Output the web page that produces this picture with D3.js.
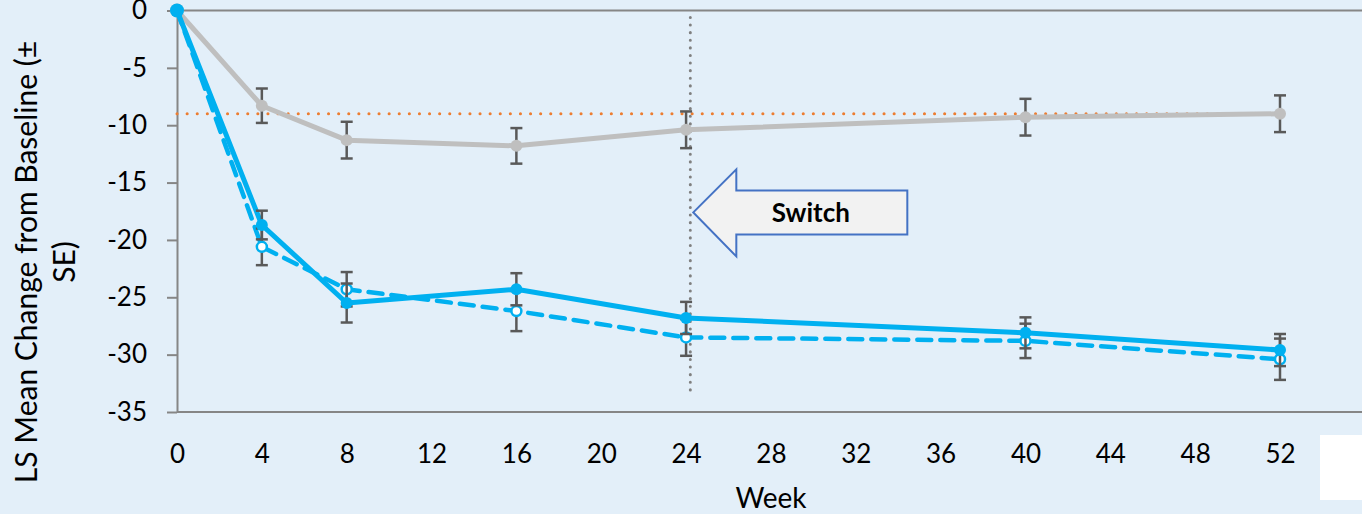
<!DOCTYPE html>
<html>
<head>
<meta charset="utf-8">
<script src="https://cdn.jsdelivr.net/npm/d3@7"></script>
<style>
  html, body { margin: 0; padding: 0; background: #e3eff9; }
  svg { display: block; font-family: Lato, "Open Sans", sans-serif; }
</style>
</head>
<body>
<svg id="chart" width="1362" height="514"></svg>
<script>
// Data
const weeks       = [0, 4, 8, 16, 24, 40, 52];
const placebo     = [0, -8.3, -11.3, -11.8, -10.4, -9.3, -9.0];
const placeboSE   = [0, 1.5, 1.6, 1.55, 1.6, 1.6, 1.6];
const activeSolid = [0, -18.7, -25.5, -24.3, -26.8, -28.1, -29.6];
const solidSE     = [0, 1.25, 1.7, 1.4, 1.4, 1.35, 1.4];
const activeDash  = [0, -20.6, -24.3, -26.2, -28.5, -28.8, -30.4];
const dashSE      = [0, 1.6, 1.5, 1.75, 1.6, 1.5, 1.8];
const refLine     = -9.0;
const switchWeek  = 24.2;
const xTicks      = d3.range(0, 53, 4);
const yTicks      = [0, -5, -10, -15, -20, -25, -30, -35];

const svg = d3.select("#chart");
const W = 1362;
const fontFam = "Lato, 'Open Sans', sans-serif";

// Scales
const x = d3.scaleLinear([0, 52], [177, 1280]);
const y = d3.scaleLinear([0, -35], [10.5, 412]);

const blue = "#00b0f0", gray = "#bfbfbf", errCol = "#595959";

// background
svg.append("rect").attr("width", W).attr("height", 514).attr("fill", "#e3eff9");
svg.append("rect").attr("x", 1320).attr("y", 435).attr("width", 42).attr("height", 65).attr("fill", "#ffffff");

// Axes
const yAxis = svg.append("g")
  .attr("transform", `translate(${x(0)},0)`)
  .call(d3.axisLeft(y).tickValues(yTicks).tickSize(10).tickSizeOuter(0));
yAxis.select(".domain").attr("stroke", "#868686").attr("stroke-width", 2);
yAxis.selectAll(".tick line").attr("stroke", "#868686").attr("stroke-width", 2);
yAxis.selectAll(".tick text")
  .attr("x", -30)
  .attr("font-size", 26).attr("fill", "#000")
  .style("font-family", fontFam)
  .text(d => d === 0 ? "0" : "-" + Math.abs(d));

// horizontal lines at 0 and -35
[0, -35].forEach(v => {
  svg.append("line")
    .attr("x1", x(0)).attr("x2", W)
    .attr("y1", y(v)).attr("y2", y(v))
    .attr("stroke", "#868686").attr("stroke-width", 2);
});

const xAxis = svg.append("g")
  .attr("transform", `translate(0,${y(-35)})`)
  .call(d3.axisBottom(x).tickValues(xTicks).tickSize(0).tickFormat(d3.format("d")));
xAxis.select(".domain").remove();
xAxis.selectAll(".tick text")
  .attr("y", 51).attr("dy", 0)
  .attr("font-size", 26).attr("fill", "#000")
  .style("font-family", fontFam);

// Axis titles
svg.append("text")
  .attr("x", 771).attr("y", 508)
  .attr("text-anchor", "middle").attr("font-size", 28)
  .text("Week");

const yt = svg.append("text")
  .attr("transform", `translate(37,262) rotate(-90)`)
  .attr("text-anchor", "middle").attr("font-size", 30);
yt.append("tspan").attr("x", 0).attr("dy", 0).text("LS Mean Change from Baseline (±");
yt.append("tspan").attr("x", 0).attr("dy", 38).text("SE)");

// Reference dotted line (orange)
svg.append("line")
  .attr("x1", x(0)).attr("x2", x(52))
  .attr("y1", y(refLine)).attr("y2", y(refLine))
  .attr("stroke", "#ed7d31").attr("stroke-width", 3)
  .attr("stroke-dasharray", "0.1 10").attr("stroke-linecap", "round");

// Switch vertical dotted line
svg.append("line")
  .attr("x1", x(switchWeek)).attr("x2", x(switchWeek))
  .attr("y1", y(-0.6)).attr("y2", y(-33.7))
  .attr("stroke", "#808080").attr("stroke-width", 3)
  .attr("stroke-dasharray", "0.1 7.5").attr("stroke-linecap", "round");

const line = d3.line().x(d => x(d[0])).y(d => y(d[1]));

function series(vals, se, color, opts) {
  const pts = weeks.map((w, i) => [w, vals[i], se[i]]);
  const g = svg.append("g");
  g.append("path")
    .datum(pts)
    .attr("d", line)
    .attr("fill", "none")
    .attr("stroke", color)
    .attr("stroke-width", opts.width)
    .attr("stroke-linejoin", "round")
    .attr("stroke-linecap", "round")
    .attr("stroke-dasharray", opts.dash || null);
  // error bars
  const eb = g.selectAll("g.eb").data(pts.filter(p => p[2] > 0)).join("g");
  eb.append("line")
    .attr("x1", d => x(d[0])).attr("x2", d => x(d[0]))
    .attr("y1", d => y(d[1] + d[2])).attr("y2", d => y(d[1] - d[2]))
    .attr("stroke", errCol).attr("stroke-width", 2.5);
  [1, -1].forEach(s => {
    eb.append("line")
      .attr("x1", d => x(d[0]) - 6).attr("x2", d => x(d[0]) + 6)
      .attr("y1", d => y(d[1] + s * d[2])).attr("y2", d => y(d[1] + s * d[2]))
      .attr("stroke", errCol).attr("stroke-width", 2.5);
  });
  g.selectAll("circle").data(pts).join("circle")
    .attr("cx", d => x(d[0])).attr("cy", d => y(d[1]))
    .attr("r", (d, i) => opts.open ? 5 : (i === 0 ? 7 : 6))
    .attr("fill", opts.open ? "#ffffff" : color)
    .attr("stroke", color)
    .attr("stroke-width", opts.open ? 2.5 : 0);
}

series(placebo, placeboSE, gray, { width: 5 });
series(activeDash, dashSE, blue, { width: 4.5, dash: "14 9", open: true });
series(activeSolid, solidSE, blue, { width: 5 });

// Switch arrow (left-pointing block arrow)
const tipX = x(switchWeek) + 3, midY = y(-17.6);
const headX = tipX + 43, endX = tipX + 214;
const arrow = [
  [tipX, midY],
  [headX, midY - 43],
  [headX, midY - 22],
  [endX, midY - 22],
  [endX, midY + 22],
  [headX, midY + 22],
  [headX, midY + 44],
];
svg.append("path")
  .attr("d", d3.line()(arrow) + "Z")
  .attr("fill", "#f2f2f2")
  .attr("stroke", "#4472c4")
  .attr("stroke-width", 2);
svg.append("text")
  .attr("x", (headX + endX) / 2 - 11).attr("y", midY + 10)
  .attr("text-anchor", "middle")
  .attr("font-size", 26).attr("font-weight", "bold")
  .text("Switch");
</script>
</body>
</html>
